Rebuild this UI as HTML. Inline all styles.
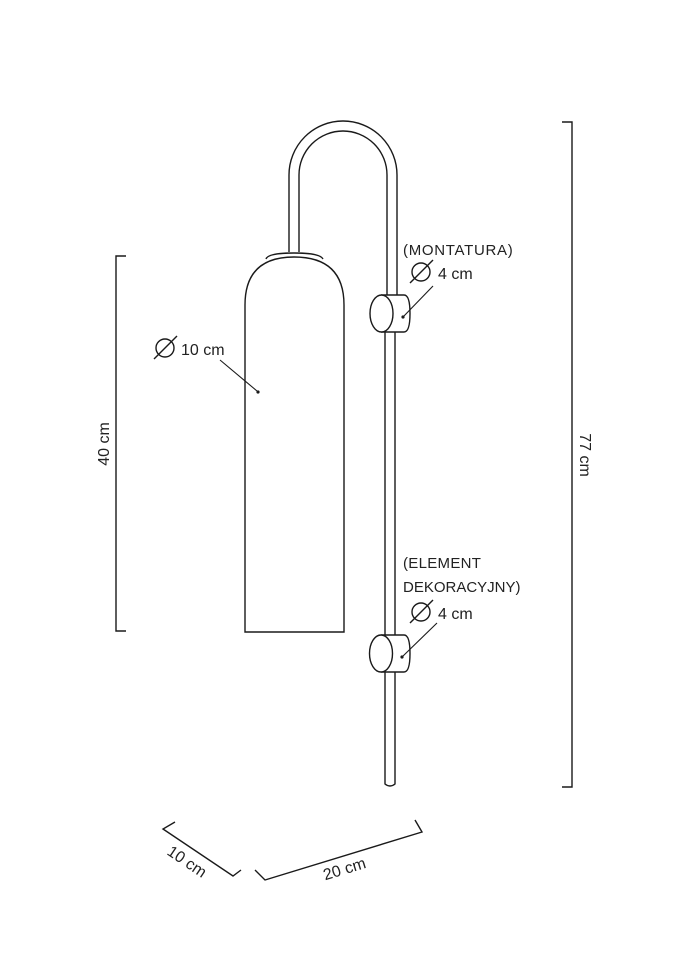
<!DOCTYPE html>
<html><head><style>
html,body{margin:0;padding:0;background:#fff;}
svg text{font-family:"Liberation Sans",sans-serif;fill:#222;}
</style></head><body>
<svg width="679" height="960" viewBox="0 0 679 960" xmlns="http://www.w3.org/2000/svg">
<g fill="none" stroke="#1a1a1a" stroke-width="1.4">
<path d="M289,252 V175 A54,54 0 0 1 397,175 V296"/>
<path d="M299,252 V175 A44,44 0 0 1 387,175 V296"/>
<path d="M385,332 V636 M395,332 V636 M385,672 V784 Q390,788 395,784 V672"/>
<path d="M245,632 V305 Q245,257 294,257 Q344,257 344,305 V632 Z" fill="#fff"/>
<path d="M266,259 Q268,253 294,253 Q320,253 323,259"/>
<path d="M381,295 H404 Q410,295 410,313.5 Q410,332 404,332 H381" fill="#fff"/>
<ellipse cx="381.5" cy="313.5" rx="11.5" ry="18.5" fill="#fff"/>
<path d="M381,635 H404 Q410,635 410,653.5 Q410,672 404,672 H381" fill="#fff"/>
<ellipse cx="381" cy="653.5" rx="11.5" ry="18.5" fill="#fff"/>
<line x1="433" y1="286" x2="403" y2="317" stroke-width="1.1"/>
<line x1="437" y1="623" x2="402" y2="657" stroke-width="1.1"/>
<line x1="220" y1="360" x2="257" y2="391" stroke-width="1.1"/>
<path d="M126,256 H116 V631 H126"/>
<path d="M562,122 H572 V787 H562"/>
<path d="M175,822 L163,829 L233,876 L241,870"/>
<path d="M255,870 L265,880 L422,832 L415,820"/>
<circle cx="165" cy="348" r="9"/><line x1="154" y1="359" x2="177" y2="336"/>
<circle cx="421" cy="272" r="9"/><line x1="410" y1="283" x2="433" y2="260"/>
<circle cx="421" cy="612" r="9"/><line x1="410" y1="623" x2="433" y2="600"/>
</g>
<g fill="#1a1a1a"><circle cx="258" cy="392" r="1.6"/><circle cx="403" cy="317" r="1.6"/><circle cx="402" cy="657" r="1.6"/></g>
<text x="181" y="355" font-size="16">10 cm</text>
<text x="403" y="255" font-size="15" letter-spacing="0.7">(MONTATURA)</text>
<text x="438" y="279" font-size="16">4 cm</text>
<text x="403" y="568" font-size="15" letter-spacing="0.3">(ELEMENT</text>
<text x="403" y="592" font-size="15">DEKORACYJNY)</text>
<text x="438" y="619" font-size="16">4 cm</text>
<text transform="translate(109,444) rotate(-90)" text-anchor="middle" font-size="16">40 cm</text>
<text transform="translate(580,455) rotate(90)" text-anchor="middle" font-size="16">77 cm</text>
<text transform="translate(184,866) rotate(34)" text-anchor="middle" font-size="16">10 cm</text>
<text transform="translate(346,874) rotate(-17)" text-anchor="middle" font-size="16">20 cm</text>
</svg>
</body></html>
